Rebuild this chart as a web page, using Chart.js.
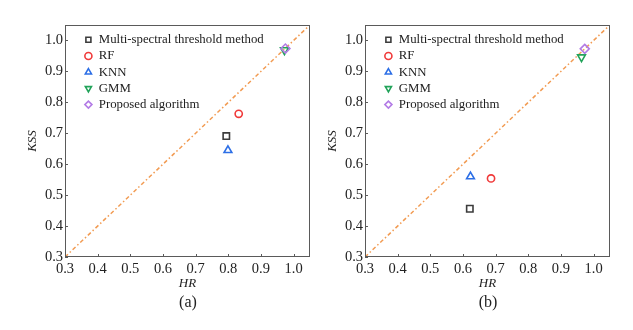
<!DOCTYPE html>
<html>
<head>
<meta charset="utf-8">
<script src="https://cdn.jsdelivr.net/npm/chart.js@4.4.0/dist/chart.umd.min.js"></script>
<style>
  html, body { margin: 0; padding: 0; background: #fff; }
  #wrap { position: relative; width: 633px; height: 330px; overflow: hidden; }
  .panel { position: absolute; top: 0; width: 316px; height: 330px; }
  .caption {
    position: absolute; top: 292px; width: 120px; text-align: center;
    font-family: "Liberation Serif", "DejaVu Serif", serif; font-size: 16px;
    line-height: 20px; color: #222;
  }
</style>
</head>
<body>
<div id="wrap">
  <div class="panel" style="left:0px"><canvas id="chartA" width="316" height="330"></canvas></div>
  <div class="panel" style="left:300px"><canvas id="chartB" width="316" height="330"></canvas></div>
  <div class="caption" style="left:128px">(a)</div>
  <div class="caption" style="left:428px">(b)</div>
</div>
<script>
// ── Data ──────────────────────────────────

const methods = ['Multi-spectral threshold method', 'RF', 'KNN', 'GMM', 'Proposed algorithm'];

// panel (a)
const hrA  = [0.794, 0.832, 0.799, 0.972, 0.975];
const kssA = [0.691, 0.763, 0.645, 0.969, 0.974];

// panel (b)
const hrB  = [0.621, 0.686, 0.623, 0.963, 0.973];
const kssB = [0.456, 0.554, 0.560, 0.946, 0.973];

// reference diagonal HR = KSS
const diagonal = [0.3, 1.05];

const tickValues = [0.3, 0.4, 0.5, 0.6, 0.7, 0.8, 0.9, 1.0];

// ── Styles ────────────────────────────────

const markerStyles = [
  { color: '#3c3c3c', shape: 'rect',     rotation: 0,   radius: 4.5 },
  { color: '#f03a3a', shape: 'circle',   rotation: 0,   radius: 3.6 },
  { color: '#2d6fe6', shape: 'triangle', rotation: 0,   radius: 4.5 },
  { color: '#22a35a', shape: 'triangle', rotation: 180, radius: 4.5 },
  { color: '#b37be6', shape: 'rectRot',  rotation: 0,   radius: 4.5 }
];

const serif = '"Liberation Serif", "DejaVu Serif", serif';

// ── Plugin: frame, inner ticks, legend spot ──

const framePlugin = {
  id: 'frame',
  afterLayout(chart) {
    const lg = chart.legend;
    const a = chart.chartArea;
    if (!lg) return;
    lg.left = a.left + 16;
    lg.top = a.top + 5;
    lg.right = lg.left + lg.width;
    lg.bottom = lg.top + lg.height;
  },
  afterDraw(chart) {
    const { ctx, chartArea: a, scales: { x, y } } = chart;
    ctx.save();
    ctx.strokeStyle = '#5a5a5a';
    ctx.lineWidth = 1;
    ctx.strokeRect(Math.round(a.left) + 0.5, Math.round(a.top) + 0.5,
                   Math.round(a.width) - 1, Math.round(a.height) - 1);
    ctx.beginPath();
    x.ticks.forEach(t => {
      const px = Math.round(x.getPixelForValue(t.value)) + 0.5;
      ctx.moveTo(px, a.bottom);
      ctx.lineTo(px, a.bottom - 3);
    });
    y.ticks.forEach(t => {
      const py = Math.round(y.getPixelForValue(t.value)) + 0.5;
      ctx.moveTo(a.left, py);
      ctx.lineTo(a.left + 3, py);
    });
    ctx.stroke();
    ctx.restore();
  }
};

// ── Chart builder ─────────────────────────

function buildDatasets(hr, kss) {
  const sets = methods.map((name, i) => {
    const s = markerStyles[i];
    return {
      label: name,
      data: [{ x: hr[i], y: kss[i] }],
      pointStyle: s.shape,
      pointRotation: s.rotation,
      pointRadius: s.radius,
      pointBorderWidth: 1.6,
      borderColor: s.color,
      backgroundColor: 'rgba(255,255,255,0)',
      borderWidth: 1.6,
      showLine: false,
      order: i === methods.length - 1 ? -1 : 0   // proposed on top
    };
  });
  sets.push({
    label: 'diagonal',
    data: diagonal.map(v => ({ x: v, y: v })),
    showLine: true,
    borderColor: '#f29b52',
    borderWidth: 1.5,
    borderDash: [4, 2.5, 1.5, 2.5],
    pointRadius: 0,
    order: 5
  });
  return sets;
}

function axis(title, isX) {
  return {
    type: 'linear',
    min: 0.3,
    max: 1.05,
    afterBuildTicks: scale => { scale.ticks = tickValues.map(v => ({ value: v })); },
    afterFit: scale => {
      if (isX) scale.height = 34; else scale.width = 65;
    },
    grid: { display: false, drawTicks: false },
    border: { display: false },
    ticks: {
      padding: isX ? 3 : 2,
      color: '#222',
      font: { family: serif, size: 14.5 },
      callback: v => Number(v).toFixed(1)
    },
    title: {
      display: true,
      text: title,
      color: '#222',
      font: { family: serif, size: 13, style: 'italic' },
      padding: isX ? { top: 0, bottom: 0 } : { top: 25, bottom: 0 }
    }
  };
}

function makeChart(id, hr, kss) {
  return new Chart(document.getElementById(id), {
    type: 'scatter',
    data: { datasets: buildDatasets(hr, kss) },
    options: {
      responsive: false,
      animation: false,
      layout: { padding: { left: 0, top: 25, right: 5, bottom: 39 } },
      scales: { x: axis('HR', true), y: axis('KSS', false) },
      plugins: {
        tooltip: { enabled: false },
        legend: {
          position: 'chartArea',
          align: 'start',
          labels: {
            usePointStyle: true,
            boxWidth: 8,
            boxHeight: 5,
            padding: 3.4,
            color: '#222',
            font: { family: serif, size: 12.8 },
            filter: item => item.text !== 'diagonal',
            sort: (a, b) => a.datasetIndex - b.datasetIndex
          }
        }
      }
    },
    plugins: [framePlugin]
  });
}

makeChart('chartA', hrA, kssA);
makeChart('chartB', hrB, kssB);
</script>
</body>
</html>
